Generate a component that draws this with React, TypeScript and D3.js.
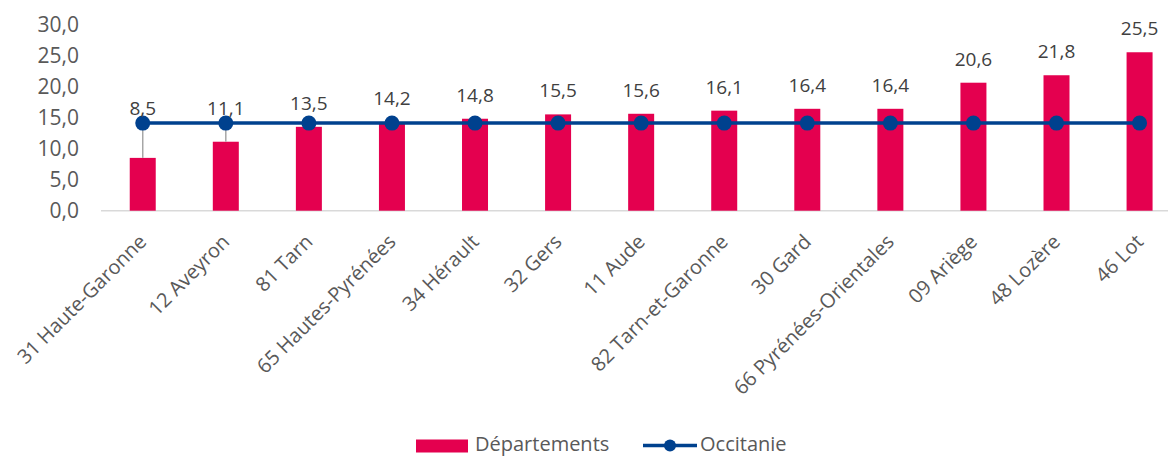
import React from "react";
import * as d3 from "d3";

const categories = [
  "31 Haute-Garonne",
  "12 Aveyron",
  "81 Tarn",
  "65 Hautes-Pyrénées",
  "34 Hérault",
  "32 Gers",
  "11 Aude",
  "82 Tarn-et-Garonne",
  "30 Gard",
  "66 Pyrénées-Orientales",
  "09 Ariège",
  "48 Lozère",
  "46 Lot",
];
const departements = [8.5, 11.1, 13.5, 14.2, 14.8, 15.5, 15.6, 16.1, 16.4, 16.4, 20.6, 21.8, 25.5];
const occitanie = [14.1, 14.1, 14.1, 14.1, 14.1, 14.1, 14.1, 14.1, 14.1, 14.1, 14.1, 14.1, 14.1];
const yTicks = [0, 5, 10, 15, 20, 25, 30];

const W = 1168;
const H = 457;
const BAR = "#E4004F";
const LINE = "#00418E";
const FONT = "'Open Sans', sans-serif";
const fmt = (v: number) => v.toFixed(1).replace(".", ",");

export default function App() {
  const x = d3
    .scaleBand<string>()
    .domain(categories)
    .range([101.2, 101.2 + 13 * 83.07])
    .paddingInner(0)
    .paddingOuter(0);
  const y = d3.scaleLinear().domain([0, 30]).range([210.7, 24.3]);
  const bw = 26;
  const cx = (c: string) => (x(c) as number) + x.bandwidth() / 2;
  const line = d3
    .line<number>()
    .x((_, i) => cx(categories[i]))
    .y((d) => y(d));

  return (
    <svg
      width={W}
      height={H}
      style={{ position: "absolute", left: 0, top: 0, background: "#fff" }}
      fontFamily={FONT}
    >
      {/* y ticks */}
      {yTicks.map((t) => (
        <text
          key={t}
          x={79}
          y={y(t)}
          dy="0.36em"
          textAnchor="end"
          fontSize={21}
          fill="#595959"
        >
          {fmt(t)}
        </text>
      ))}
      {/* axis line */}
      <line x1={101} x2={W} y1={y(0)} y2={y(0)} stroke="#D9D9D9" strokeWidth={1.5} />
      {/* bars */}
      {categories.map((c, i) => (
        <rect
          key={c}
          x={cx(c) - bw / 2}
          y={y(departements[i])}
          width={bw}
          height={y(0) - y(departements[i])}
          fill={BAR}
        />
      ))}
      {/* high-low lines */}
      {categories.map((c, i) =>
        departements[i] < occitanie[i] ? (
          <line
            key={"hl" + c}
            x1={cx(c)}
            x2={cx(c)}
            y1={y(occitanie[i])}
            y2={y(departements[i])}
            stroke="#A6A6A6"
            strokeWidth={1.5}
          />
        ) : null
      )}
      {/* line */}
      <path d={line(occitanie) || ""} fill="none" stroke={LINE} strokeWidth={3.5} />
      {categories.map((c, i) => (
        <circle key={"m" + c} cx={cx(c)} cy={y(occitanie[i])} r={7.5} fill={LINE} />
      ))}
      {/* data labels */}
      {categories.map((c, i) => {
        const by = Math.min(y(departements[i]) - 17, y(occitanie[i]) - 8);
        return (
          <text
            key={"l" + c}
            x={cx(c)}
            y={by}
            textAnchor="middle"
            fontSize={19}
            fill="#404040"
          >
            {fmt(departements[i])}
          </text>
        );
      })}
      {/* x labels */}
      {categories.map((c) => (
        <text
          key={"x" + c}
          transform={`translate(${cx(c) + 5},${243}) rotate(-45)`}
          textAnchor="end"
          fontSize={20}
          fill="#595959"
        >
          {c}
        </text>
      ))}
      {/* legend */}
      <rect x={416} y={439.5} width={52} height={13} fill={BAR} />
      <text x={475} y={451.3} fontSize={20} fill="#595959">
        Départements
      </text>
      <line x1={643} x2={697} y1={445.5} y2={445.5} stroke={LINE} strokeWidth={3.5} />
      <circle cx={670} cy={445.5} r={6} fill={LINE} />
      <text x={700} y={451.3} fontSize={20} fill="#595959">
        Occitanie
      </text>
    </svg>
  );
}
